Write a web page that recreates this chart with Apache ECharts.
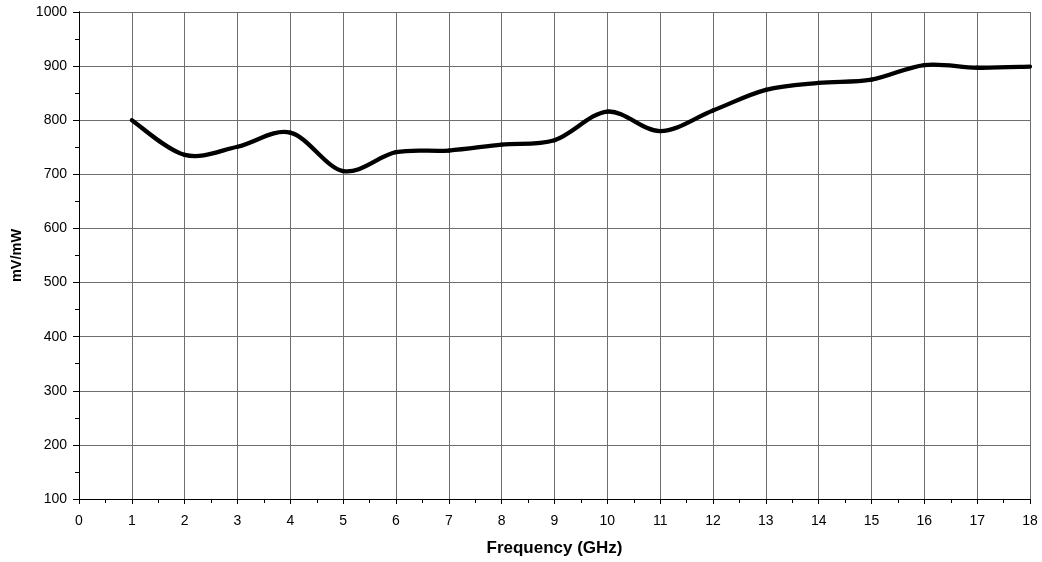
<!DOCTYPE html>
<html><head><meta charset="utf-8">
<script src="https://cdn.jsdelivr.net/npm/echarts@6/dist/echarts.min.js"></script>
<style>html,body{margin:0;padding:0;background:#fff}#c{width:1042px;height:562px}</style>
</head><body><div id="c"></div>
<script>
const freqGHz = [1,2,3,4,5,6,7,8,9,10,11,12,13,14,15,16,17,18];
const mvPerMw = [800,736,751,777,706,741,744,755,763,816,780,818,856,869,875,902,897,899];
const xTitle = 'Frequency (GHz)';
const yTitle = 'mV/mW';

const chart = echarts.init(document.getElementById('c'));
const font = 'Liberation Sans, Arial, sans-serif';
const gridColor = '#6e6e6e';
const baseX = {
  type:'value', min:0, max:18, interval:1,
  axisLine:{lineStyle:{color:'#000',width:1}}
};
const baseY = {
  type:'value', min:100, max:1000, interval:100,
  axisLine:{show:true,lineStyle:{color:'#000',width:1}}
};
const points = freqGHz.map((f,i)=>[f,mvPerMw[i]]);

function renderCurve(params, api){
  if (params.dataIndex !== 0) return null;
  const P = points.map(p => api.coord(p));
  const n = P.length;
  const children = [];
  for (let i = 0; i < n-1; i++){
    const p0 = P[Math.max(0,i-1)], p1 = P[i], p2 = P[i+1], p3 = P[Math.min(n-1,i+2)];
    children.push({
      type:'bezierCurve',
      shape:{
        x1:p1[0], y1:p1[1], x2:p2[0], y2:p2[1],
        cpx1:p1[0]+(p2[0]-p0[0])/6, cpy1:p1[1]+(p2[1]-p0[1])/6,
        cpx2:p2[0]-(p3[0]-p1[0])/6, cpy2:p2[1]-(p3[1]-p1[1])/6
      },
      style:{stroke:'#000',lineWidth:4.3,fill:null,lineCap:'round',lineJoin:'round'},
      silent:true
    });
  }
  return {type:'group', children};
}

chart.setOption({
  animation:false,
  grid:{left:79,right:12,top:12,bottom:61,containLabel:false},
  xAxis:[
    Object.assign({}, baseX, {
      name:xTitle, nameLocation:'middle', nameGap:41,
      nameTextStyle:{fontFamily:font,fontWeight:'bold',fontSize:17,color:'#000'},
      axisLabel:{fontFamily:font,fontSize:14,color:'#000',margin:15},
      axisTick:{show:true,length:5,lineStyle:{color:'#000'}},
      minorTick:{show:true,splitNumber:2,length:4,lineStyle:{color:'#000'}},
      splitLine:{show:true,lineStyle:{color:gridColor,width:1}}
    }),
    Object.assign({}, baseX, {
      position:'bottom',
      axisLabel:{show:false},
      axisTick:{show:false},
      minorTick:{show:true,splitNumber:2,length:4,inside:true,lineStyle:{color:'#000'}},
      splitLine:{show:false}
    })
  ],
  yAxis:[
    Object.assign({}, baseY, {
      name:yTitle, nameLocation:'middle', nameGap:50, nameRotate:90,
      nameTextStyle:{fontFamily:font,fontWeight:'bold',fontSize:14.5,color:'#000'},
      axisLabel:{fontFamily:font,fontSize:14,color:'#000',margin:12,formatter:v=>String(v)},
      axisTick:{show:true,length:6,lineStyle:{color:'#000'}},
      minorTick:{show:true,splitNumber:2,length:4,lineStyle:{color:'#000'}},
      splitLine:{show:true,lineStyle:{color:gridColor,width:1}}
    }),
    Object.assign({}, baseY, {
      position:'left',
      axisLabel:{show:false},
      axisTick:{show:false},
      minorTick:{show:true,splitNumber:2,length:4,inside:true,lineStyle:{color:'#000'}},
      splitLine:{show:false}
    })
  ],
  series:[{
    type:'custom',
    renderItem:renderCurve,
    data:points,
    encode:{x:0,y:1},
    clip:false,
    xAxisIndex:0,yAxisIndex:0
  }]
});
</script></body></html>
